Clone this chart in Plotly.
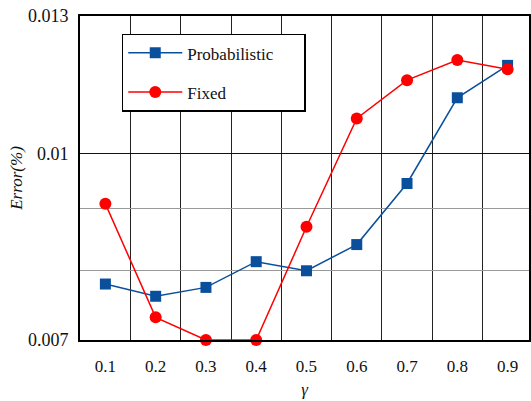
import plotly.graph_objects as go

gamma = [0.1, 0.2, 0.3, 0.4, 0.5, 0.6, 0.7, 0.8, 0.9]
x_labels = ["0.1", "0.2", "0.3", "0.4", "0.5", "0.6", "0.7", "0.8", "0.9"]
probabilistic = [0.00779, 0.00761, 0.00774, 0.00813, 0.00799, 0.00840, 0.00944, 0.01112, 0.01183]
fixed = [0.00908, 0.00731, 0.00700, 0.00700, 0.00869, 0.01069, 0.01150, 0.01195, 0.01174]
y_ticks = [0.007, 0.01, 0.013]
y_ticklabels = ["0.007", "0.01", "0.013"]
y_minor = [0.008, 0.009]
x_minor = [0.15, 0.25, 0.35, 0.45, 0.55, 0.65, 0.75, 0.85]

FONT = "Liberation Serif"
NB = "\u00a0"

fig = go.Figure()
fig.add_trace(go.Scatter(
    x=gamma, y=probabilistic, name="Probabilistic" + NB * 6, mode="lines+markers",
    line=dict(color="#0a4f9c", width=1.5),
    marker=dict(symbol="square", size=11, color="#0a4f9c"),
    legendgroup="a", cliponaxis=False,
))
fig.add_trace(go.Scatter(
    x=gamma, y=fixed, name="Fixed", mode="lines+markers",
    line=dict(color="#ff0000", width=1.5),
    marker=dict(symbol="circle", size=12, color="#ff0000"),
    legendgroup="b", cliponaxis=False,
))

fig.update_layout(
    width=531, height=401,
    margin=dict(l=80, r=0, t=16, b=61),
    paper_bgcolor="white", plot_bgcolor="white",
    font=dict(family=FONT, size=17, color="#111"),
    showlegend=True,
    legend=dict(
        x=0.093, y=0.945, xanchor="left", yanchor="top",
        bgcolor="white", bordercolor="black", borderwidth=1.5,
        font=dict(family=FONT, size=17, color="#111"),
        tracegroupgap=14, itemwidth=54,
    ),
    xaxis=dict(
        range=[0.0495, 0.9426],
        tickvals=gamma, ticktext=x_labels,
        showgrid=False, zeroline=False,
        showline=True, linecolor="black", linewidth=2, mirror=True,
        ticks="", ticklabelstandoff=10,
        tickfont=dict(family=FONT, size=17),
        minor=dict(tickvals=x_minor, showgrid=True, gridcolor="#222", gridwidth=1, ticks=""),
        title=dict(text="<i>γ</i>", standoff=8, font=dict(family=FONT, size=17)),
    ),
    yaxis=dict(
        type="log",
        range=[-2.15490196, -1.88605665],
        tickvals=y_ticks, ticktext=y_ticklabels,
        showgrid=True, gridcolor="#111", gridwidth=1,
        zeroline=False,
        showline=True, linecolor="black", linewidth=2, mirror=True,
        ticks="", ticklabelstandoff=6,
        tickfont=dict(family=FONT, size=18),
        minor=dict(tickvals=y_minor, showgrid=True, gridcolor="#999", gridwidth=1, ticks=""),
        title=dict(text="<i>Error(%)</i>", standoff=1, font=dict(family=FONT, size=17)),
    ),
)

fig.write_html(
    "out.html",
    config={"displayModeBar": False},
    post_script="document.body.style.margin='0';document.body.style.padding='0';",
)
